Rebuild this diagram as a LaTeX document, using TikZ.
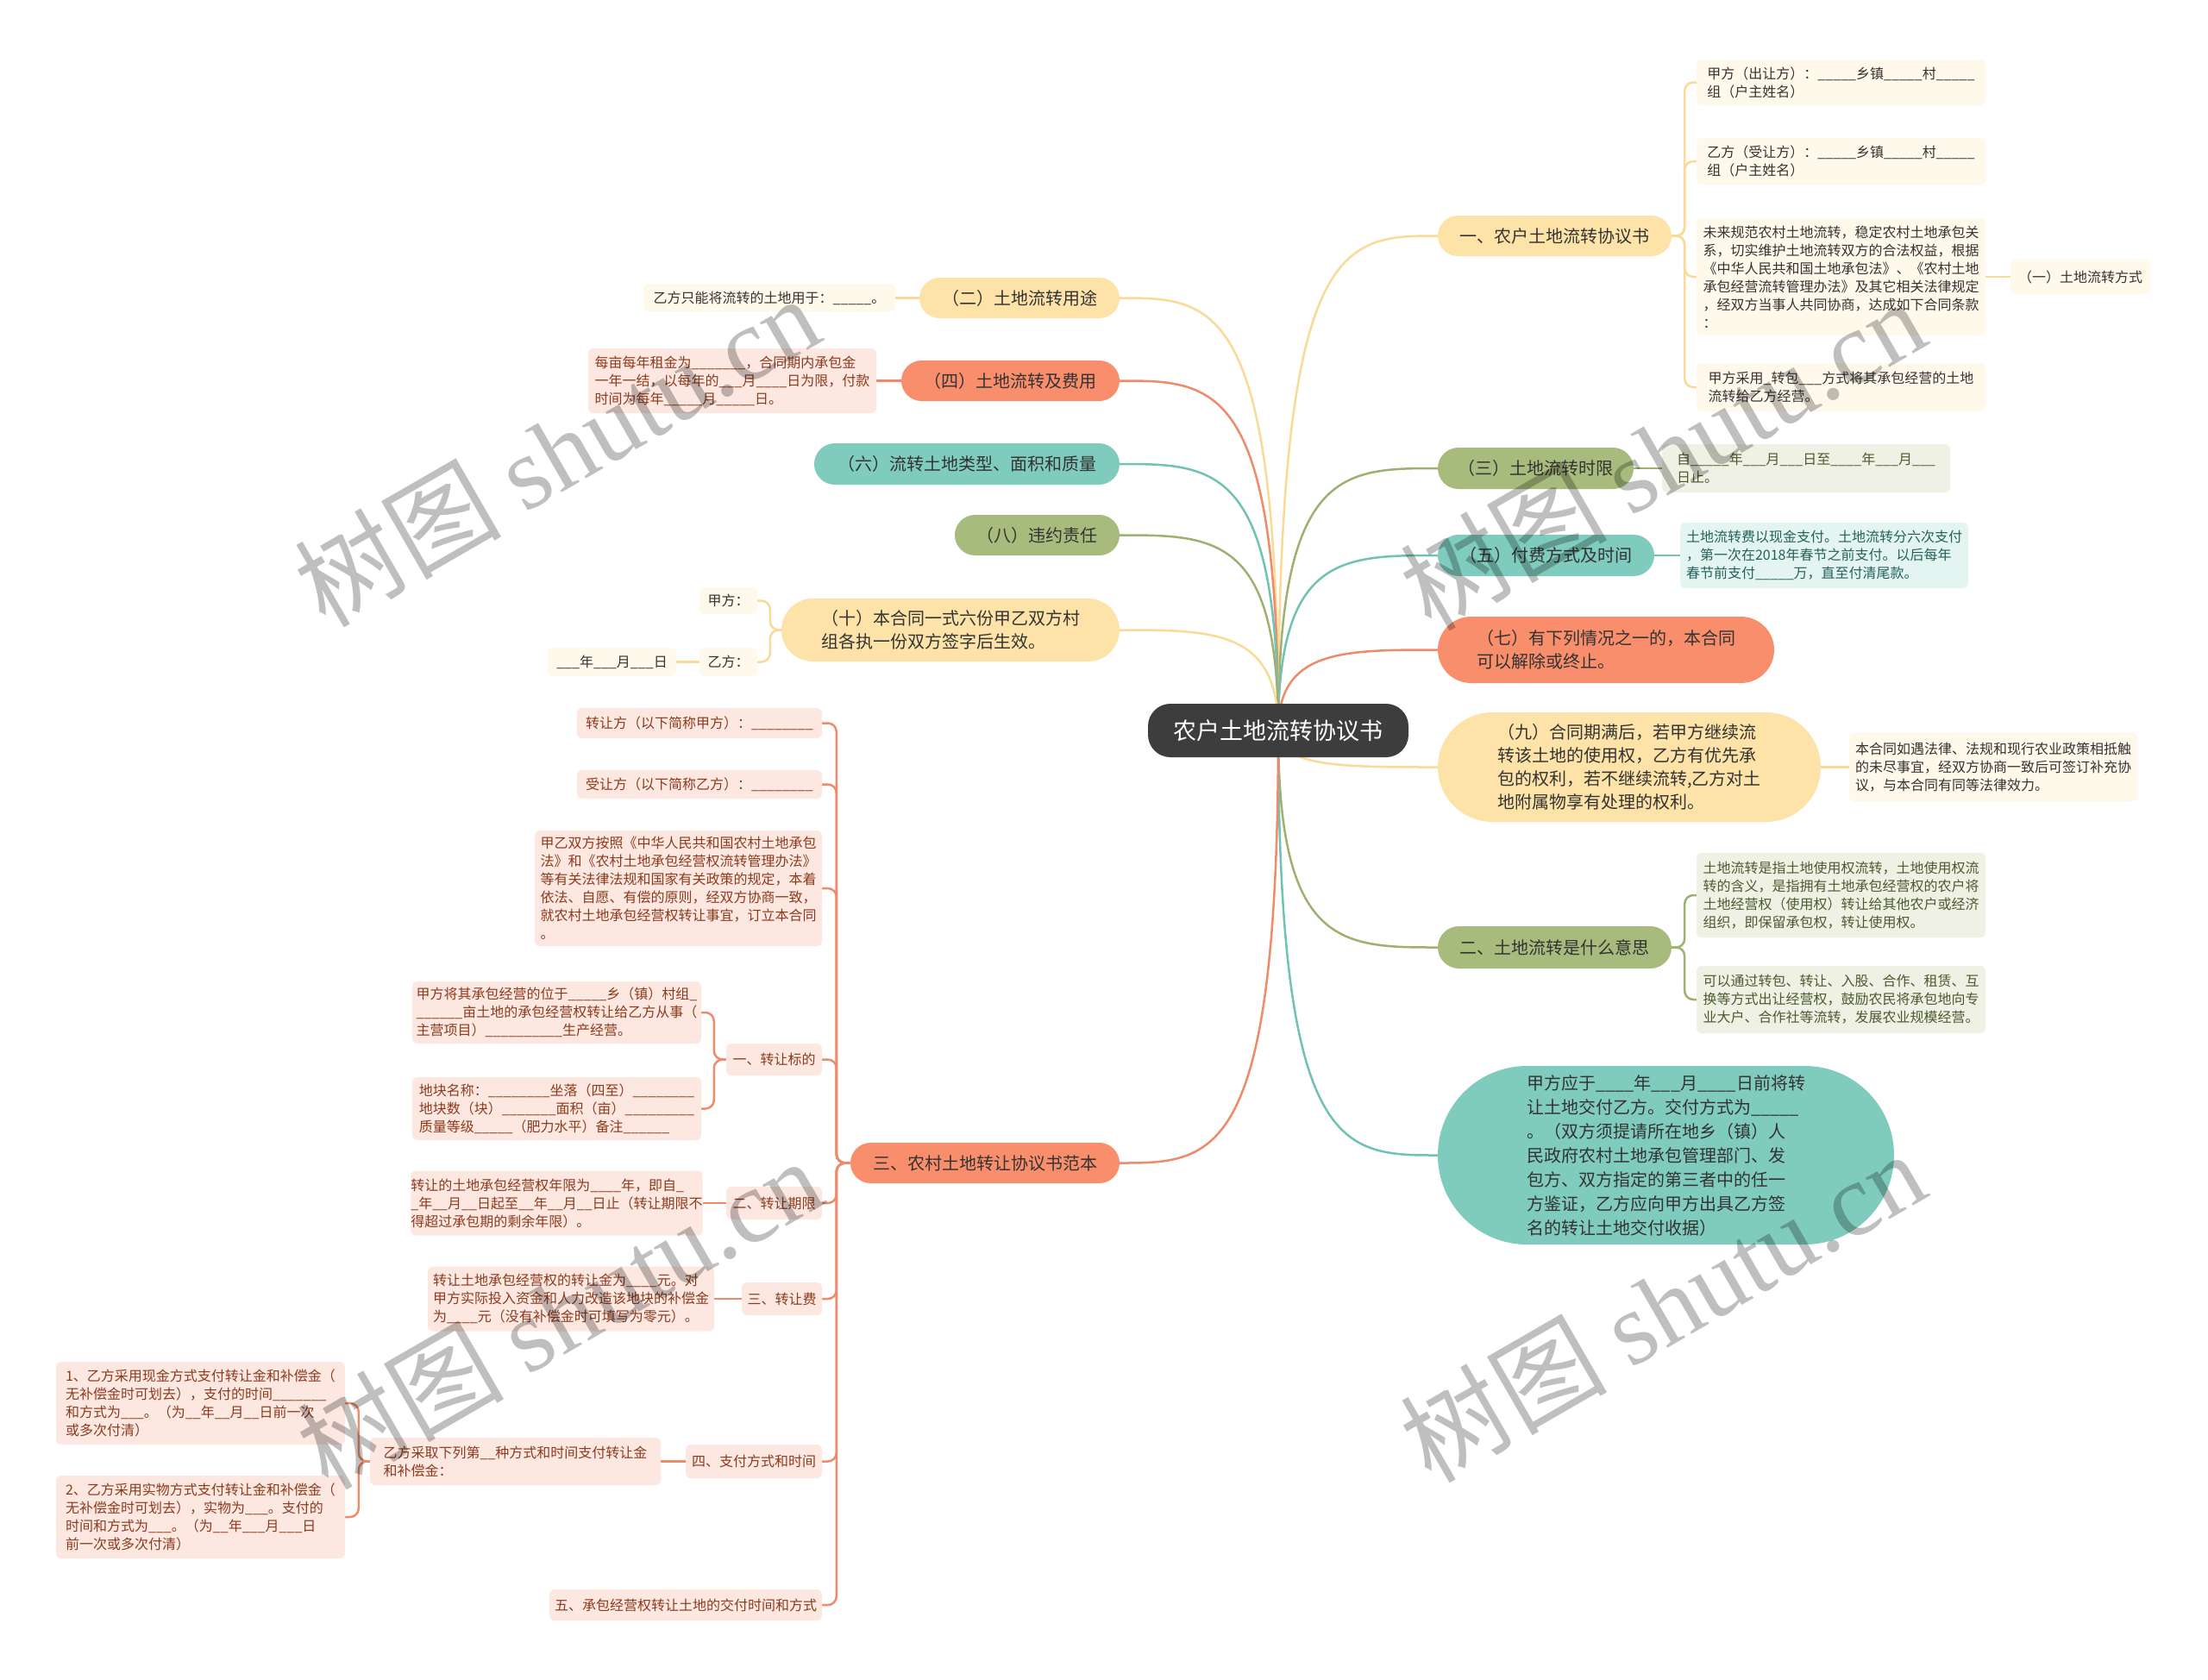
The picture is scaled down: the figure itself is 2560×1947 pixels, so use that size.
\documentclass[tikz,border=0pt]{standalone}
\usepackage{fontspec}
\setmainfont{Noto Sans CJK SC}
\newfontfamily\wmserif{Liberation Serif}
\usetikzlibrary{calc}
\ExplSyntaxOn
\NewDocumentCommand{\blk}{m}{\prg_replicate:nn{#1}{\textunderscore}}
\ExplSyntaxOff
\definecolor{cY}{HTML}{FDE3A7}
\definecolor{cYl}{HTML}{F9DA97}
\definecolor{cO}{HTML}{F88E6C}
\definecolor{cOl}{HTML}{EF8A6A}
\definecolor{cT}{HTML}{7FCBBD}
\definecolor{cTl}{HTML}{70C3B3}
\definecolor{cG}{HTML}{A7BB7D}
\definecolor{cGl}{HTML}{9DB171}
\definecolor{cRoot}{HTML}{3D3D3D}
\definecolor{lfY}{HTML}{FEF9EA}
\definecolor{lfO}{HTML}{FDE8E1}
\definecolor{lfT}{HTML}{E4F4F1}
\definecolor{lfG}{HTML}{EFF1E4}
\definecolor{txD}{HTML}{333333}
\definecolor{txO}{HTML}{8A3B1D}
\definecolor{txT}{HTML}{23625A}
\definecolor{txG}{HTML}{4D5A2F}
\pgfdeclarelayer{bgfill}
\pgfdeclarelayer{lines}
\pgfsetlayers{bgfill,lines,main}
\tikzset{
  box/.style n args={3}{minimum width=#1pt, minimum height=#2pt, rounded corners=#3pt, inner sep=0pt, align=left, anchor=center},
  mainF/.style={font=\fontsize{20}{27}\selectfont, text=txD},
  leafF/.style={font=\fontsize{16}{21}\selectfont},
  mY/.style={fill=cY, mainF}, mO/.style={fill=cO, mainF},
  mT/.style={fill=cT, mainF}, mG/.style={fill=cG, mainF},
  lY/.style={fill=lfY, leafF, text=txD}, lO/.style={fill=lfO, leafF, text=txO},
  lT/.style={fill=lfT, leafF, text=txT}, lG/.style={fill=lfG, leafF, text=txG},
  lnY/.style={draw=cYl, line width=2.5pt, rounded corners=10pt},
  lnO/.style={draw=cOl, line width=2.5pt, rounded corners=10pt},
  lnT/.style={draw=cTl, line width=2.5pt, rounded corners=10pt},
  lnG/.style={draw=cGl, line width=2.5pt, rounded corners=10pt},
  branch/.style={line width=3pt, rounded corners=0pt, to path={.. controls (\tikztostart |- \tikztotarget) and ($(\tikztostart |- \tikztotarget)!0.4!(\tikztotarget)$) .. (\tikztotarget)}},
  wm/.style={rotate=30, text=black, text opacity=0.25, font=\fontsize{120}{124}\selectfont, inner sep=0pt},
}
\begin{document}
\begin{tikzpicture}[x=1pt, y=-1pt]
\useasboundingbox (0,0) rectangle (2560,1947);
\begin{pgfonlayer}{bgfill}
\fill[white] (0,0) rectangle (2560,1947);
\end{pgfonlayer}

% root
\node[box={302}{62}{26}, fill=cRoot, text=white, font=\fontsize{27}{32}\selectfont] (root) at (1482,847) {农户土地流转协议书};

% right main branches
\node[box={271}{47}{23.5}, mY] (R1) at (1802.5,273.5) {一、农户土地流转协议书};
\node[box={227}{48}{24}, mG] (R2) at (1780.5,543) {（三）土地流转时限};
\node[box={251}{48}{24}, mT] (R3) at (1792.5,644) {（五）付费方式及时间};
\node[box={390}{77}{38.5}, mO] (R4) at (1862,753.5) {（七）有下列情况之一的，本合同\\可以解除或终止。};
\node[box={444}{127}{63.5}, mY] (R5) at (1889,889.5) {（九）合同期满后，若甲方继续流\\转该土地的使用权，乙方有优先承\\包的权利，若不继续流转,乙方对土\\地附属物享有处理的权利。};
\node[box={271}{49}{24.5}, mG] (R6) at (1802.5,1098.5) {二、土地流转是什么意思};
\node[box={529}{207}{103.5}, mT, font=\fontsize{20}{28}\selectfont] (R7) at (1931.5,1339.5) {甲方应于\blk{4}年\blk{3}月\blk{4}日前将转\\让土地交付乙方。交付方式为\blk{5}\\。（双方须提请所在地乡（镇）人\\民政府农村土地承包管理部门、发\\包方、双方指定的第三者中的任一\\方鉴证，乙方应向甲方出具乙方签\\名的转让土地交付收据）};

% right leaves
\node[box={335}{53}{6}, lY] (A) at (2134.5,95.5) {甲方（出让方）：\blk{5}乡镇\blk{5}村\blk{5}\\组（户主姓名）};
\node[box={335}{54}{6}, lY] (B) at (2134.5,187) {乙方（受让方）：\blk{5}乡镇\blk{5}村\blk{5}\\组（户主姓名）};
\node[box={335}{136}{6}, lY] (C) at (2134.5,321) {未来规范农村土地流转，稳定农村土地承包关\\系，切实维护土地流转双方的合法权益，根据\\《中华人民共和国土地承包法》、《农村土地\\承包经营流转管理办法》及其它相关法律规定\\，经双方当事人共同协商，达成如下合同条款\\：};
\node[box={162}{41}{6}, lY] (C1) at (2412,321) {（一）土地流转方式};
\node[box={335}{56}{6}, lY] (D) at (2134.5,449) {甲方采用\blk{1}转包\blk{3}方式将其承包经营的土地\\流转给乙方经营。};
\node[box={334}{56}{6}, lG] (E) at (2094,543) {自\blk{5}年\blk{3}月\blk{3}日至\blk{4}年\blk{3}月\blk{3}\\日止。};
\node[box={334}{76}{6}, lT] (F) at (2115,644) {土地流转费以现金支付。土地流转分六次支付\\，第一次在2018年春节之前支付。以后每年\\春节前支付\blk{5}万，直至付清尾款。};
\node[box={334}{80}{6}, lY] (G) at (2311,889.5) {本合同如遇法律、法规和现行农业政策相抵触\\的未尽事宜，经双方协商一致后可签订补充协\\议，与本合同有同等法律效力。};
\node[box={335}{98}{6}, lG] (H) at (2134.5,1038) {土地流转是指土地使用权流转，土地使用权流\\转的含义，是指拥有土地承包经营权的农户将\\土地经营权（使用权）转让给其他农户或经济\\组织，即保留承包权，转让使用权。};
\node[box={335}{78}{6}, lG] (I) at (2134.5,1159) {可以通过转包、转让、入股、合作、租赁、互\\换等方式出让经营权，鼓励农民将承包地向专\\业大户、合作社等流转，发展农业规模经营。};

% left main branches
\node[box={232}{47}{23.5}, mY] (L1) at (1182,345.5) {（二）土地流转用途};
\node[box={253}{47}{23.5}, mO] (L2) at (1171.5,441.5) {（四）土地流转及费用};
\node[box={354}{48}{24}, mT] (L3) at (1121,538) {（六）流转土地类型、面积和质量};
\node[box={191}{47}{23.5}, mG] (L4) at (1202.5,620.5) {（八）违约责任};
\node[box={392}{73}{36.5}, mY] (L5) at (1102,730.5) {（十）本合同一式六份甲乙双方村\\组各执一份双方签字后生效。};
\node[box={312}{47}{23.5}, mO] (L6) at (1142,1348.5) {三、农村土地转让协议书范本};

% left leaves
\node[box={292}{32}{6}, lY] (L1a) at (892,345.5) {乙方只能将流转的土地用于：\blk{5}。};
\node[box={334}{75}{6}, lO] (L2a) at (849,441.5) {每亩每年租金为\blk{7}，合同期内承包金\\一年一结，以每年的\blk{3}月\blk{4}日为限，付款\\时间为每年\blk{5}月\blk{5}日。};
\node[box={67}{31}{6}, lY] (L5a) at (844.5,696.5) {甲方：};
\node[box={67}{33}{6}, lY] (L5b) at (844.5,767.5) {乙方：};
\node[box={149}{33}{6}, lY] (L5c) at (709.5,767.5) {\blk{3}年\blk{3}月\blk{3}日};

\node[box={284}{35}{6}, lO] (Pa) at (811,838.5) {转让方（以下简称甲方）：\blk{8}};
\node[box={284}{33}{6}, lO] (Pb) at (811,909.5) {受让方（以下简称乙方）：\blk{8}};
\node[box={333}{134}{6}, lO] (Pc) at (786.5,1030) {甲乙双方按照《中华人民共和国农村土地承包\\法》和《农村土地承包经营权流转管理办法》\\等有关法律法规和国家有关政策的规定，本着\\依法、自愿、有偿的原则，经双方协商一致，\\就农村土地承包经营权转让事宜，订立本合同\\。};
\node[box={111}{37}{6}, lO] (Pd) at (897.5,1228.5) {一、转让标的};
\node[box={335}{72}{6}, lO] (Pd1) at (645.5,1174) {甲方将其承包经营的位于\blk{5}乡（镇）村组\blk{1}\\\blk{6}亩土地的承包经营权转让给乙方从事（\\主营项目）\blk{10}生产经营。};
\node[box={335}{73}{6}, lO] (Pd2) at (645.5,1285.5) {地块名称：\blk{8}坐落（四至）\blk{8}\\地块数（块）\blk{7}面积（亩）\blk{9}\\质量等级\blk{5}（肥力水平）备注\blk{6}};
\node[box={111}{38}{6}, lO] (Pe) at (897.5,1395) {二、转让期限};
\node[box={335}{75}{6}, lO] (Pe1) at (645.5,1395) {转让的土地承包经营权年限为\blk{4}年，即自\blk{1}\\\blk{1}年\blk{2}月\blk{2}日起至\blk{2}年\blk{2}月\blk{2}日止（转让期限不\\得超过承包期的剩余年限）。};
\node[box={93}{38}{6}, lO] (Pf) at (906.5,1506) {三、转让费};
\node[box={332}{75}{6}, lO] (Pf1) at (662,1506) {转让土地承包经营权的转让金为\blk{4}元。对\\甲方实际投入资金和人力改造该地块的补偿金\\为\blk{4}元（没有补偿金时可填写为零元）。};
\node[box={158}{39}{6}, lO] (Pg) at (874,1694.5) {四、支付方式和时间};
\node[box={337}{55}{6}, lO] (Pg1) at (597.5,1694.5) {乙方采取下列第\blk{2}种方式和时间支付转让金\\和补偿金：};
\node[box={335}{96}{6}, lO] (Pg1a) at (232.5,1627) {1、乙方采用现金方式支付转让金和补偿金（\\无补偿金时可划去），支付的时间\blk{7}\\和方式为\blk{3}。（为\blk{2}年\blk{2}月\blk{2}日前一次\\或多次付清）};
\node[box={335}{96}{6}, lO] (Pg1b) at (232.5,1759) {2、乙方采用实物方式支付转让金和补偿金（\\无补偿金时可划去），实物为\blk{3}。支付的\\时间和方式为\blk{3}。（为\blk{2}年\blk{3}月\blk{3}日\\前一次或多次付清）};
\node[box={316}{36}{6}, lO] (Ph) at (795,1861) {五、承包经营权转让土地的交付时间和方式};

% connectors
\begin{pgfonlayer}{lines}
\draw[lnY] (root.center) to[branch] (R1.west);
\draw[lnG] (root.center) to[branch] (R2.west);
\draw[lnT] (root.center) to[branch] (R3.west);
\draw[lnO] (root.center) to[branch] (R4.west);
\draw[lnY] (root.center) to[branch] (R5.west);
\draw[lnG] (root.center) to[branch] (R6.west);
\draw[lnT] (root.center) to[branch] (R7.west);
\draw[lnY] (root.center) to[branch] (L1.east);
\draw[lnO] (root.center) to[branch] (L2.east);
\draw[lnT] (root.center) to[branch] (L3.east);
\draw[lnG] (root.center) to[branch] (L4.east);
\draw[lnY] (root.center) to[branch] (L5.east);
\draw[lnO] (root.center) to[branch] (L6.east);

\draw[lnY] (R1.east) -- ++(15,0) |- (A.west);
\draw[lnY] (R1.east) -- ++(15,0) |- (B.west);
\draw[lnY] (R1.east) -- ++(15,0) |- (C.west);
\draw[lnY] (R1.east) -- ++(15,0) |- (D.west);
\draw[lnY] (C.east) -- (C1.west);
\draw[lnG] (R2.east) -- (E.west);
\draw[lnT] (R3.east) -- (F.west);
\draw[lnY] (R5.east) -- (G.west);
\draw[lnG] (R6.east) -- ++(15,0) |- (H.west);
\draw[lnG] (R6.east) -- ++(15,0) |- (I.west);

\draw[lnY] (L1.west) -- (L1a.east);
\draw[lnO] (L2.west) -- (L2a.east);
\draw[lnY] (L5.west) -- ++(-13,0) |- (L5a.east);
\draw[lnY] (L5.west) -- ++(-13,0) |- (L5b.east);
\draw[lnY] (L5b.west) -- (L5c.east);

\foreach \n in {Pa,Pb,Pc,Pd,Pe,Pf,Pg,Ph}
  \draw[lnO] (L6.west) -- ++(-16,0) |- (\n.east);
\draw[lnO] (Pd.west) -- ++(-14,0) |- (Pd1.east);
\draw[lnO] (Pd.west) -- ++(-14,0) |- (Pd2.east);
\draw[lnO] (Pe.west) -- (Pe1.east);
\draw[lnO] (Pf.west) -- (Pf1.east);
\draw[lnO] (Pg.west) -- (Pg1.east);
\draw[lnO] (Pg1.west) -- ++(-13,0) |- (Pg1a.east);
\draw[lnO] (Pg1.west) -- ++(-13,0) |- (Pg1b.east);
\end{pgfonlayer}

% watermarks
\node[wm] (W1) at (645,522) {树图 {\wmserif shutu.cn}};
\node[wm] (W2) at (1927,526) {树图 {\wmserif shutu.cn}};
\node[wm] (W3) at (648,1522) {树图 {\wmserif shutu.cn}};
\node[wm] (W4) at (1927,1514) {树图 {\wmserif shutu.cn}};
\end{tikzpicture}
\end{document}
